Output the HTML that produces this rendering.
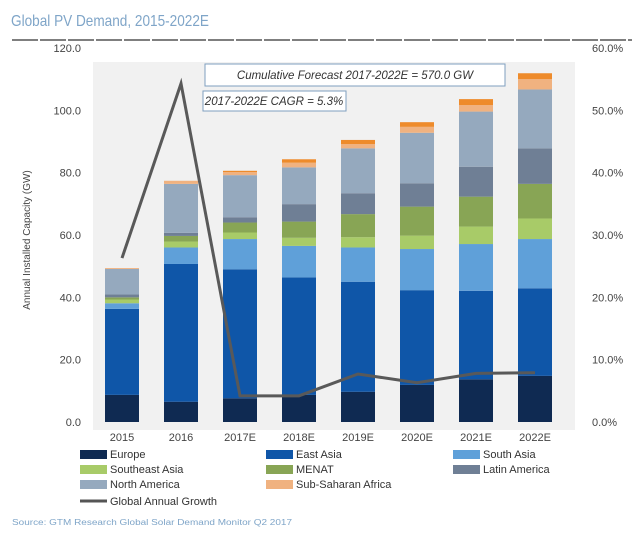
<!DOCTYPE html>
<html><head><meta charset="utf-8"><style>
body{margin:0;background:#fff;font-family:"Liberation Sans",sans-serif;}
svg{display:block}
</style></head><body>
<svg id="c" width="640" height="540" xmlns="http://www.w3.org/2000/svg"></svg>
<script>
const categories=["2015","2016","2017E","2018E","2019E","2020E","2021E","2022E"];
const europe=[8.7,6.5,7.6,8.7,9.7,11.9,13.7,14.8];
const eastAsia=[27.6,44.2,41.4,37.7,35.3,30.4,28.4,28.1];
const southAsia=[1.8,5.3,9.7,10.1,11.0,13.2,15.0,15.8];
const seAsia=[1.2,1.9,2.1,2.6,3.3,4.3,5.6,6.6];
const menat=[0.7,1.8,3.2,5.2,7.4,9.3,9.6,11.1];
const latAm=[0.9,1.0,1.7,5.6,6.7,7.5,9.6,11.4];
const northAm=[8.2,15.7,13.5,11.8,14.4,16.2,17.7,18.9];
const ssa=[0.3,1.0,1.0,1.5,1.4,1.9,2.1,3.3];
const other=[0,0,0.4,1.1,1.3,1.5,1.9,1.9];
const growth=[26.3,54.3,4.2,4.2,7.7,6.3,7.8,7.9];
const leftTicks=["0.0","20.0","40.0","60.0","80.0","100.0","120.0"];
const rightTicks=["0.0%","10.0%","20.0%","30.0%","40.0%","50.0%","60.0%"];
const NS="http://www.w3.org/2000/svg";
const svg=document.getElementById('c');
function el(t,a,p){const e=document.createElementNS(NS,t);for(const k in a)e.setAttribute(k,a[k]);(p||svg).appendChild(e);return e;}
const y0=422,yTop=48;
const yL=v=>y0-(v/120)*(y0-yTop);
const yR=v=>y0-(v/60)*(y0-yTop);
const xC=i=>122+i*59;
let t=el('text',{x:11,y:26,'font-size':16,fill:'#7fa5c8',textLength:198,lengthAdjust:'spacingAndGlyphs'});t.textContent="Global PV Demand, 2015-2022E";

let ln=el('line',{x1:12,y1:40,x2:632,y2:40,stroke:'#555','stroke-width':1.5,'stroke-dasharray':'26 2'});

let bg=el('rect',{x:93,y:62,width:482,height:368,fill:'#f1f1f1'});

leftTicks.forEach((s,i)=>{const v=i*20;const e=el('text',{x:81,y:yL(v)+4,'font-size':11,fill:'#444','text-anchor':'end'});e.textContent=s;
});
rightTicks.forEach((s,i)=>{const v=i*10;const e=el('text',{x:592,y:yR(v)+4,'font-size':11,fill:'#444'});e.textContent=s;
});
let yt=el('text',{x:30,y:240,'font-size':10,fill:'#444','text-anchor':'middle',transform:'rotate(-90 30 240)'});yt.textContent="Annual Installed Capacity (GW)";

const series=[[europe,'#0f2a52','europe'],[eastAsia,'#0f56a8','east-asia'],[southAsia,'#5fa0d9','south-asia'],[seAsia,'#a8cb68','southeast-asia'],[menat,'#88a555','menat'],[latAm,'#6f7f95','latin-america'],[northAm,'#95a9be','north-america'],[ssa,'#f0b280','sub-saharan-africa'],[other,'#ee8b2b','other']];
categories.forEach((c,i)=>{let cum=0;
 series.forEach(([arr,col,nm])=>{const v=arr[i];const r=el('rect',{x:xC(i)-17,y:yL(cum+v),width:34,height:yL(cum)-yL(cum+v),fill:col});
 cum+=v;});
 const e=el('text',{x:xC(i),y:441,'font-size':11,fill:'#444','text-anchor':'middle'});e.textContent=c;
 });
let pl=el('polyline',{points:growth.map((g,i)=>xC(i)+','+yR(g)).join(' '),fill:'none',stroke:'#595959','stroke-width':3});

let b1=el('rect',{x:205,y:64,width:300,height:22,fill:'#fff',stroke:'#7f9fbf'});
let t1=el('text',{x:355,y:79,'font-size':11.5,'font-style':'italic',fill:'#333','text-anchor':'middle'});t1.textContent="Cumulative Forecast 2017-2022E = 570.0 GW";

let b2=el('rect',{x:203,y:91,width:143,height:20,fill:'#fff',stroke:'#7f9fbf'});
let t2=el('text',{x:274,y:105,'font-size':11.5,'font-style':'italic',fill:'#333','text-anchor':'middle'});t2.textContent="2017-2022E CAGR = 5.3%";

const leg=[["Europe",'#0f2a52',0,0],["East Asia",'#0f56a8',1,0],["South Asia",'#5fa0d9',2,0],["Southeast Asia",'#a8cb68',0,1],["MENAT",'#88a555',1,1],["Latin America",'#6f7f95',2,1],["North America",'#95a9be',0,2],["Sub-Saharan Africa",'#f0b280',1,2]];
const lx=[80,266,453],ly=[454,469,484];
leg.forEach(([n,c,cx,r])=>{const s=el('rect',{x:lx[cx],y:ly[r]-4,width:27,height:9,fill:c});

const e=el('text',{x:lx[cx]+30,y:ly[r]+4,'font-size':11,fill:'#333'});e.textContent=n;
});
let gl=el('line',{x1:80,y1:501,x2:107,y2:501,stroke:'#555','stroke-width':3});
let gt=el('text',{x:110,y:505,'font-size':11,fill:'#333'});gt.textContent="Global Annual Growth";

let src=el('text',{x:12,y:525,'font-size':8,fill:'#7fa5c8',textLength:280,lengthAdjust:'spacingAndGlyphs'});src.textContent="Source: GTM Research Global Solar Demand Monitor Q2 2017";

</script>
</body></html>
